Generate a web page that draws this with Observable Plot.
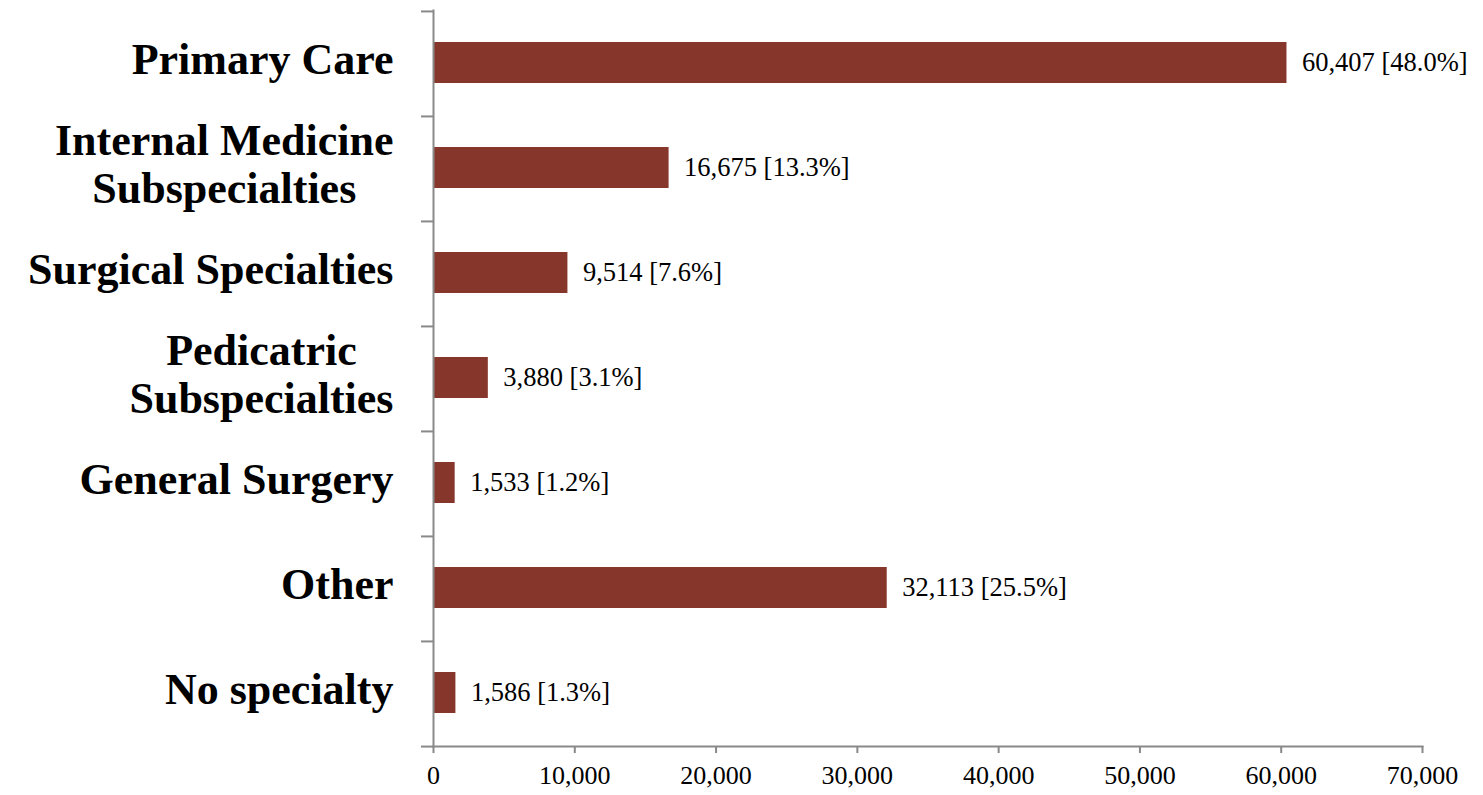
<!DOCTYPE html>
<html>
<head>
<meta charset="utf-8">
<script src="https://cdn.jsdelivr.net/npm/d3@7"></script>
<script src="https://cdn.jsdelivr.net/npm/@observablehq/plot@0.6"></script>
<style>
  html, body { margin: 0; padding: 0; background: #fff; }
  #chart { width: 1483px; height: 795px; }
</style>
</head>
<body>
<div id="chart"></div>
<script>
// Physicians by specialty group: counts and share of total
const specialties = [
  "Primary Care",
  "Internal Medicine\nSubspecialties",
  "Surgical Specialties",
  "Pedicatric\nSubspecialties",
  "General Surgery",
  "Other",
  "No specialty"
];
const counts = [60407, 16675, 9514, 3880, 1533, 32113, 1586];
const shares = [48.0, 13.3, 7.6, 3.1, 1.2, 25.5, 1.3];
const xTicks = [0, 10000, 20000, 30000, 40000, 50000, 60000, 70000];

const rows = specialties.map((s, i) => ({specialty: s, count: counts[i], share: shares[i]}));

const W = 1483, H = 795;
const M = {top: 10, right: 61, bottom: 49, left: 433};
const step = (H - M.top - M.bottom) / specialties.length;
const barColor = "#86362A";
const axisColor = "#898989";
const fmt = d3.format(",");

const chart = Plot.plot({
  width: W,
  height: H,
  marginTop: M.top,
  marginRight: M.right,
  marginBottom: M.bottom,
  marginLeft: M.left,
  style: {fontFamily: "'Liberation Serif', 'Times New Roman', serif", color: "#000", background: "#fff"},
  x: {domain: [0, 70000], ticks: xTicks, tickFormat: fmt},
  y: {domain: specialties, padding: 0},
  marks: [
    Plot.barX(rows, {x: "count", y: "specialty", fill: barColor, insetTop: 31, insetBottom: 33}),
    Plot.text(rows, {
      x: "count", y: "specialty",
      text: d => `${fmt(d.count)} [${d.share.toFixed(1)}%]`,
      textAnchor: "start", dx: 15, dy: -1, fontSize: 26.5, fill: "#000"
    }),
    // tick marks on the category axis sit at the band boundaries
    Plot.ruleY(specialties, {y: d => d, x2: 0, insetLeft: -12, dy: -step / 2, stroke: axisColor, strokeWidth: 2}),
    Plot.ruleY(specialties.slice(-1), {y: d => d, x2: 0, insetLeft: -12, dy: step / 2, stroke: axisColor, strokeWidth: 2}),
    Plot.frame({anchor: "left", stroke: axisColor, strokeWidth: 2}),
    Plot.frame({anchor: "bottom", stroke: axisColor, strokeWidth: 2}),
    Plot.axisX({
      ticks: xTicks, tickFormat: fmt, tickSize: 7, tickPadding: 12,
      fontSize: 26, stroke: axisColor, strokeWidth: 2, label: null, fill: "#000"
    }),
    Plot.axisY({
      tickSize: 0, tickPadding: 40, fontSize: 44, fontWeight: "bold", dy: -5,
      lineHeight: 1.08, label: null, fill: "#000"
    })
  ]
});

document.getElementById("chart").append(chart);

// two-line category labels are centred on each other, right-aligned as a block
const yLabels = chart.querySelector('[aria-label="y-axis tick label"]');
if (yLabels) {
  yLabels.querySelectorAll("text").forEach(t => {
    const spans = t.querySelectorAll("tspan");
    if (spans.length < 2) return;
    const w = Math.max(...Array.from(spans, s => s.getComputedTextLength()));
    t.setAttribute("text-anchor", "middle");
    spans.forEach(s => s.setAttribute("x", -w / 2));
  });
}
</script>
</body>
</html>
